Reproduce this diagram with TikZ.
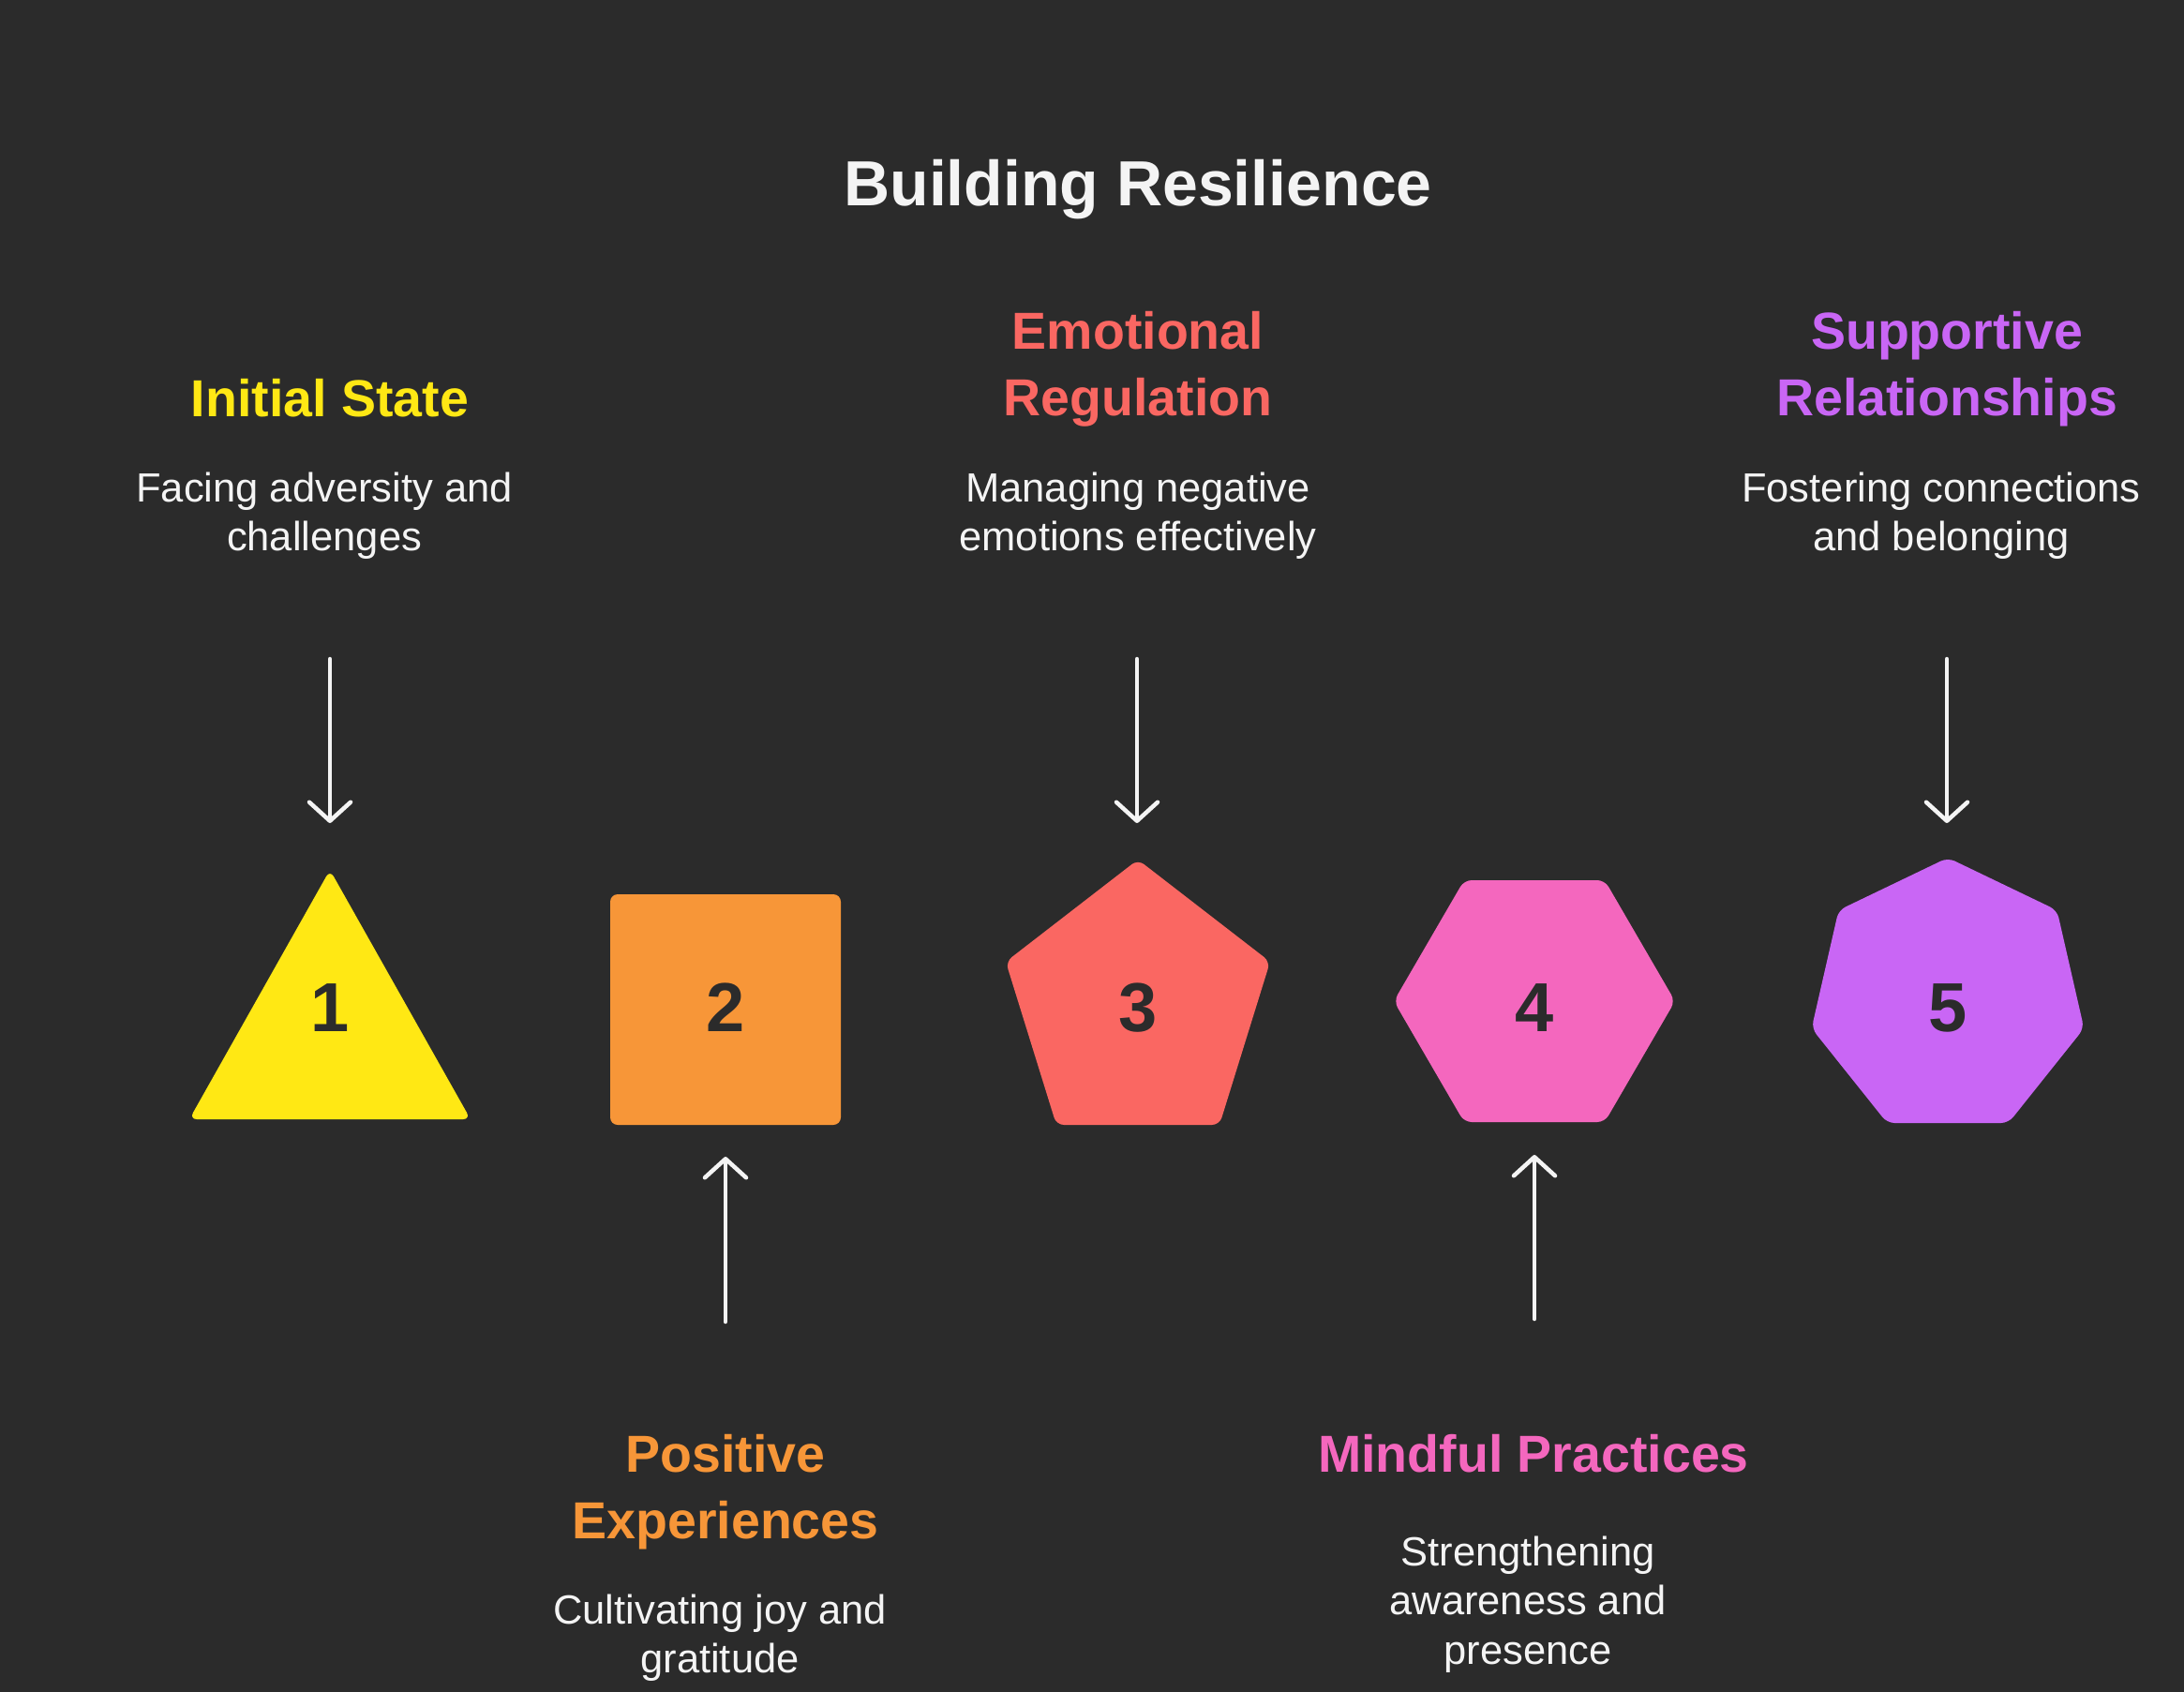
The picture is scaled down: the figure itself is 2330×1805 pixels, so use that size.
\documentclass[tikz,border=0pt]{standalone}
\usepackage{fontspec}
\setmainfont{Liberation Sans}
\usetikzlibrary{arrows.meta}
\definecolor{bg}{HTML}{2B2B2B}
\definecolor{cyel}{HTML}{FFE814}
\definecolor{corg}{HTML}{F79638}
\definecolor{cred}{HTML}{FA6762}
\definecolor{cpnk}{HTML}{F467BE}
\definecolor{cpur}{HTML}{C966F5}
\definecolor{txt}{HTML}{F4F4F4}
\newcommand{\mlines}[1]{\begin{tabular}[t]{@{}c@{}}#1\end{tabular}}
\tikzset{
  head/.style={anchor=base, inner sep=0pt, font=\fontsize{55.5}{71}\selectfont\bfseries},
  desc/.style={anchor=base, inner sep=0pt, text=txt, font=\fontsize{43.5}{52.5}\selectfont},
  digit/.style={anchor=base, inner sep=0pt, text=bg, font=\fontsize{74}{80}\selectfont\bfseries},
  shapefill/.style={rounded corners=8pt},
  flow/.style={draw=txt, line width=4.5pt, line cap=round, -{Straight Barb[length=20pt,width=44pt,round]}},
  title/.style={anchor=base, inner sep=0pt, text=txt, font=\fontsize{68}{80}\selectfont\bfseries}
}
\begin{document}
\begin{tikzpicture}[x=1pt,y=-1pt]
\fill[bg] (0,0) rectangle (2330,1805);
\useasboundingbox (0,0) rectangle (2330,1805);

\node[title] (title) at (1214,219) {Building Resilience};

% shapes
\fill[cyel, shapefill] (352,928) -- (502,1194) -- (202,1194) -- cycle;
\fill[corg, shapefill] (651,954) rectangle (897,1200);
\fill[cred, shapefill] (1214,917) -- (1355,1026) -- (1301,1200) -- (1127,1200) -- (1073,1026) -- cycle;
\fill[cpnk, shapefill] (1562,939) -- (1712,939) -- (1787,1068) -- (1712,1197) -- (1562,1197) -- (1487,1068) -- cycle;
\fill[cpur, shapefill] (2078,915) -- (2194.5,971) -- (2223.3,1097) -- (2142.7,1198) -- (2013.3,1198) -- (1932.7,1097) -- (1961.5,971) -- cycle;

% digits
\node[digit] (n1) at (352,1100) {1};
\node[digit] (n2) at (774,1100) {2};
\node[digit] (n3) at (1214,1100) {3};
\node[digit] (n4) at (1637,1100) {4};
\node[digit] (n5) at (2078,1100) {5};

% top labels
\node[head, text=cyel] (h1) at (352,444) {\mlines{Initial State}};
\node[desc] (d1) at (346,535) {\mlines{Facing adversity and\\challenges}};
\node[head, text=cred] (h3) at (1214,372) {\mlines{Emotional\\Regulation}};
\node[desc] (d3) at (1214,535) {\mlines{Managing negative\\emotions effectively}};
\node[head, text=cpur] (h5) at (2077,372) {\mlines{Supportive\\Relationships}};
\node[desc] (d5) at (2071,535) {\mlines{Fostering connections\\and belonging}};

% bottom labels
\node[head, text=corg] (h2) at (774,1570) {\mlines{Positive\\Experiences}};
\node[desc] (d2) at (768,1732) {\mlines{Cultivating joy and\\gratitude}};
\node[head, text=cpnk] (h4) at (1636,1570) {\mlines{Mindful Practices}};
\node[desc] (d4) at (1630,1670) {\mlines{Strengthening\\awareness and\\presence}};

% arrow end points
\coordinate (a1s) at (352,703);  \coordinate (a1e) at (352,878);
\coordinate (a3s) at (1213,703); \coordinate (a3e) at (1213,878);
\coordinate (a5s) at (2077,703); \coordinate (a5e) at (2077,878);
\coordinate (a2s) at (774,1410); \coordinate (a2e) at (774,1234);
\coordinate (a4s) at (1637,1407); \coordinate (a4e) at (1637,1232);

\draw[flow] (a1s) -- (a1e);
\draw[flow] (a3s) -- (a3e);
\draw[flow] (a5s) -- (a5e);
\draw[flow] (a2s) -- (a2e);
\draw[flow] (a4s) -- (a4e);
\end{tikzpicture}
\end{document}
